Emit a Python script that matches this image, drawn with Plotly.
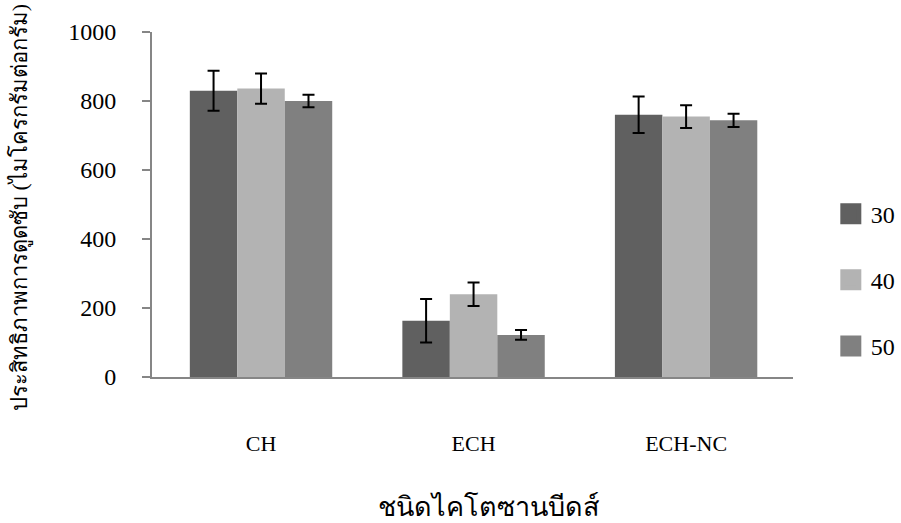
import plotly.graph_objects as go

# Adsorption capacity by chitosan bead type and condition
categories = ["CH", "ECH", "ECH-NC"]
series_names = ["30", "40", "50"]
values = {
    "30": [830, 163, 760],
    "40": [836, 240, 755],
    "50": [800, 122, 744],
}
errors = {
    "30": [58, 63, 53],
    "40": [44, 34, 33],
    "50": [18, 14, 19],
}
colors = {"30": "#606060", "40": "#b3b3b3", "50": "#808080"}

y_title = "ประสิทธิภาพการดูดซับ (ไมโครกรัมต่อกรัม)"
x_title = "ชนิดไคโตซานบีดส์"

serif = "Liberation Serif, Times New Roman, serif"

fig = go.Figure()
for i, name in enumerate(series_names):
    fig.add_trace(go.Bar(
        x=categories, y=values[name], name=name,
        marker=dict(color=colors[name], line=dict(width=0)),
        error_y=dict(type="data", array=errors[name], color="black",
                     thickness=2, width=6),
        showlegend=False,
    ))
    # legend entry with a large square swatch
    fig.add_trace(go.Scatter(
        x=[None], y=[None], mode="markers", name=name,
        marker=dict(symbol="square", size=16, color=colors[name],
                    line=dict(color=colors[name], width=5)),
        legendgroup=f"g{i}", showlegend=True,
    ))

fig.update_layout(
    width=901, height=523,
    margin=dict(l=152, r=108, t=32, b=146, autoexpand=False),
    paper_bgcolor="white", plot_bgcolor="white",
    barmode="group", bargap=0.33, bargroupgap=0,
    font=dict(family=serif, size=23, color="black"),
    legend=dict(x=1.059, y=0.281, xanchor="left", yanchor="middle",
                tracegroupgap=32, font=dict(size=24),
                itemwidth=30, bgcolor="rgba(0,0,0,0)"),
    annotations=[
        dict(text=y_title, xref="paper", yref="paper",
             x=(20 - 152) / 641, y=(377 - 208) / 345, textangle=-90,
             xanchor="center", yanchor="middle", showarrow=False,
             font=dict(size=22)),
        dict(text=x_title, xref="paper", yref="paper",
             x=(488 - 152) / 641, y=-(506 - 377) / 345,
             xanchor="center", yanchor="middle", showarrow=False,
             font=dict(size=27)),
    ],
)
fig.update_yaxes(
    range=[0, 1000], tickvals=[0, 200, 400, 600, 800, 1000],
    showline=True, linecolor="#868686", linewidth=2,
    ticks="outside", ticklen=8, tickcolor="#868686", tickwidth=2,
    ticklabelstandoff=21, showgrid=False, zeroline=False,
    tickfont=dict(size=24),
)
fig.update_xaxes(
    range=[-0.513, 2.503],
    showline=True, linecolor="#868686", linewidth=2,
    ticks="", ticklabelstandoff=46, showgrid=False,
    tickfont=dict(size=22),
)

fig.write_html("out.html")
